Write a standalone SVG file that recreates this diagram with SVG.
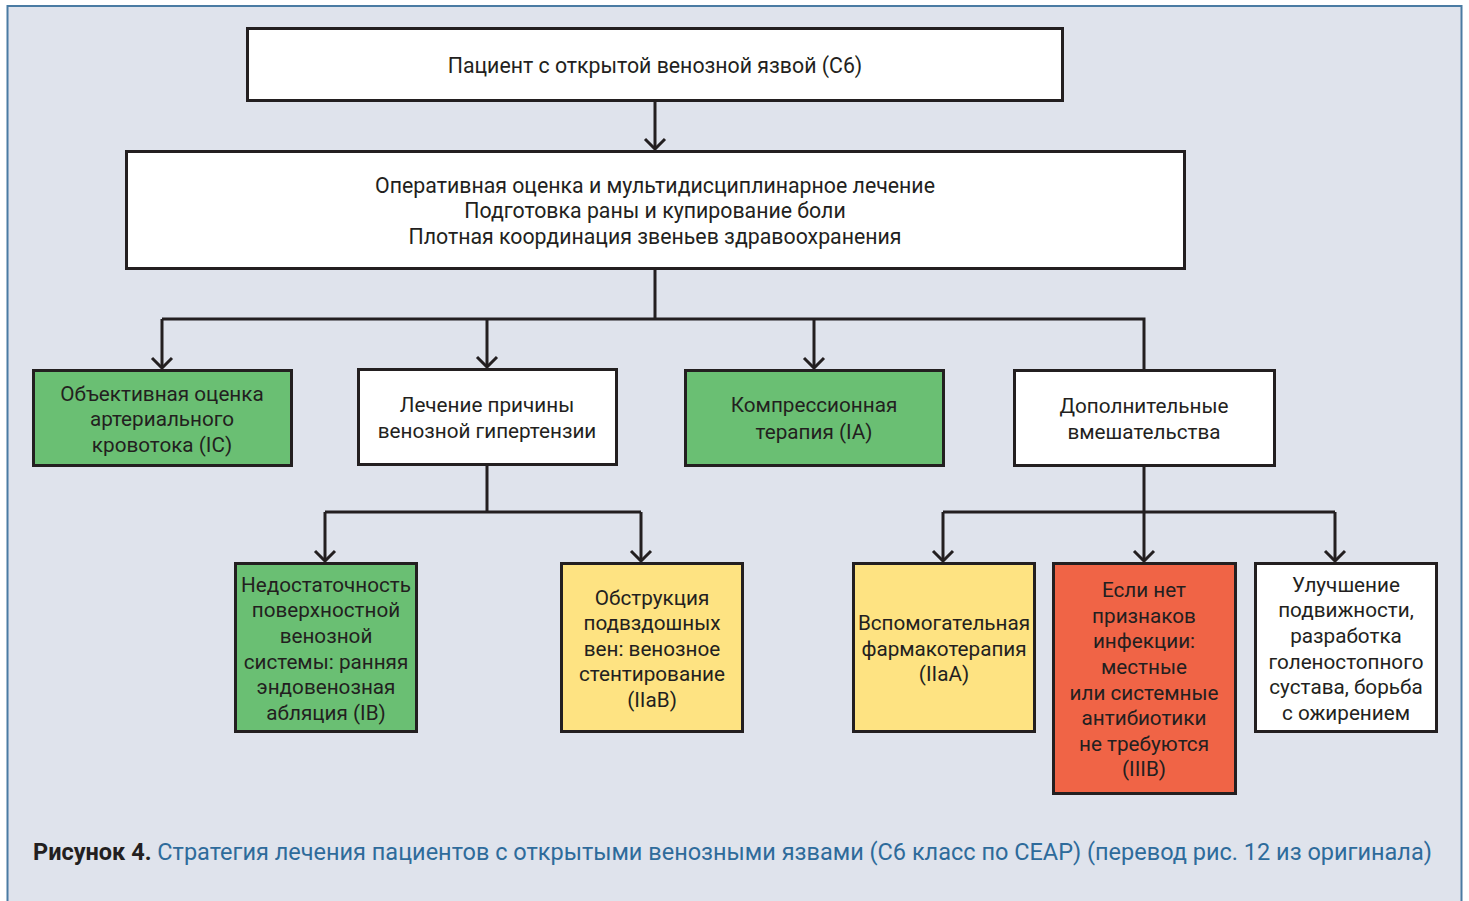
<svg xmlns="http://www.w3.org/2000/svg" width="1469" height="901" viewBox="0 0 1469 901">
  <style>
    .box { stroke: #231f20; stroke-width: 3; }
    .white { fill: #ffffff; }
    .green { fill: #6abf73; }
    .yellow { fill: #fee382; }
    .red { fill: #f06446; }
    .t { font-family: Roboto, "Liberation Sans", sans-serif; font-size: 20.7px; fill: #231f20; text-anchor: middle; }
    .big { font-size: 21.3px; }
    .wire { fill: none; stroke: #231f20; stroke-width: 3; }
    .cap { font-family: Roboto, "Liberation Sans", sans-serif; font-size: 23.5px; }
  </style>
  <defs>
    <!-- open chevron head, tip at the end of the line -->
    <marker id="arrow" viewBox="0 0 14 24" refX="12" refY="12" markerWidth="14" markerHeight="24" markerUnits="userSpaceOnUse" orient="auto">
      <path d="M2 2 L12 12 L2 22" fill="none" stroke="#231f20" stroke-width="3"/>
    </marker>
  </defs>

  <!-- panel -->
  <rect x="7.5" y="6" width="1454" height="905" fill="#dfe3ec" stroke="#4a7ba3" stroke-width="2"/>

  <g id="connectors">
    <path class="wire" d="M655 101 V149" marker-end="url(#arrow)"/>
    <path class="wire" d="M655 269 V319 M162 319 H1144 V370"/>
    <path class="wire" d="M162 319 V368" marker-end="url(#arrow)"/>
    <path class="wire" d="M487 319 V367" marker-end="url(#arrow)"/>
    <path class="wire" d="M814 319 V368" marker-end="url(#arrow)"/>
    <path class="wire" d="M487 465 V512 M325 512 H641"/>
    <path class="wire" d="M325 512 V561" marker-end="url(#arrow)"/>
    <path class="wire" d="M641 512 V561" marker-end="url(#arrow)"/>
    <path class="wire" d="M1144 466 V512 M943 512 H1335"/>
    <path class="wire" d="M943 512 V561" marker-end="url(#arrow)"/>
    <path class="wire" d="M1144 512 V561" marker-end="url(#arrow)"/>
    <path class="wire" d="M1335 512 V561" marker-end="url(#arrow)"/>
  </g>

  <g id="patient">
    <rect class="box white" x="247.5" y="28.5" width="815" height="72"/>
    <text class="t big" x="655" y="73">Пациент с открытой венозной язвой (C6)</text>
  </g>

  <g id="assessment">
    <rect class="box white" x="126.5" y="151.5" width="1058" height="117"/>
    <text class="t big" x="655" y="193">Оперативная оценка и мультидисциплинарное лечение</text>
    <text class="t big" x="655" y="218">Подготовка раны и купирование боли</text>
    <text class="t big" x="655" y="244">Плотная координация звеньев здравоохранения</text>
  </g>

  <g id="arterial">
    <rect class="box green" x="33.5" y="370.5" width="258" height="95"/>
    <text class="t" x="162" y="401">Объективная оценка</text>
    <text class="t" x="162" y="426">артериального</text>
    <text class="t" x="162" y="452">кровотока (IC)</text>
  </g>

  <g id="cause">
    <rect class="box white" x="358.5" y="369.5" width="258" height="95"/>
    <text class="t" x="487" y="412">Лечение причины</text>
    <text class="t" x="487" y="438">венозной гипертензии</text>
  </g>

  <g id="compression">
    <rect class="box green" x="685.5" y="370.5" width="258" height="95"/>
    <text class="t" x="814" y="412">Компрессионная</text>
    <text class="t" x="814" y="439">терапия (IA)</text>
  </g>

  <g id="additional">
    <rect class="box white" x="1014.5" y="370.5" width="260" height="95"/>
    <text class="t" x="1144" y="413">Дополнительные</text>
    <text class="t" x="1144" y="439">вмешательства</text>
  </g>

  <g id="superficial">
    <rect class="box green" x="235.5" y="563.5" width="181" height="168"/>
    <text class="t" x="326" y="592">Недостаточность</text>
    <text class="t" x="326" y="617">поверхностной</text>
    <text class="t" x="326" y="643">венозной</text>
    <text class="t" x="326" y="669">системы: ранняя</text>
    <text class="t" x="326" y="694">эндовенозная</text>
    <text class="t" x="326" y="720">абляция (IB)</text>
  </g>

  <g id="iliac">
    <rect class="box yellow" x="561.5" y="563.5" width="181" height="168"/>
    <text class="t" x="652" y="605">Обструкция</text>
    <text class="t" x="652" y="630">подвздошных</text>
    <text class="t" x="652" y="656">вен: венозное</text>
    <text class="t" x="652" y="681">стентирование</text>
    <text class="t" x="652" y="707">(IIaB)</text>
  </g>

  <g id="pharma">
    <rect class="box yellow" x="853.5" y="563.5" width="181" height="168"/>
    <text class="t" x="944" y="630">Вспомогательная</text>
    <text class="t" x="944" y="656">фармакотерапия</text>
    <text class="t" x="944" y="681">(IIaA)</text>
  </g>

  <g id="antibiotics">
    <rect class="box red" x="1053.5" y="563.5" width="182" height="230"/>
    <text class="t" x="1144" y="597">Если нет</text>
    <text class="t" x="1144" y="623">признаков</text>
    <text class="t" x="1144" y="648">инфекции:</text>
    <text class="t" x="1144" y="674">местные</text>
    <text class="t" x="1144" y="700">или системные</text>
    <text class="t" x="1144" y="725">антибиотики</text>
    <text class="t" x="1144" y="751">не требуются</text>
    <text class="t" x="1144" y="776">(IIIB)</text>
  </g>

  <g id="mobility">
    <rect class="box white" x="1255.5" y="563.5" width="181" height="168"/>
    <text class="t" x="1346" y="592">Улучшение</text>
    <text class="t" x="1346" y="617">подвижности,</text>
    <text class="t" x="1346" y="643">разработка</text>
    <text class="t" x="1346" y="669">голеностопного</text>
    <text class="t" x="1346" y="694">сустава, борьба</text>
    <text class="t" x="1346" y="720">с ожирением</text>
  </g>

  <text class="cap" x="33" y="860"><tspan font-weight="bold" fill="#231f20">Рисунок 4.</tspan><tspan fill="#2e6b9b"> Стратегия лечения пациентов с открытыми венозными язвами (С6 класс по СЕАР) (перевод рис. 12 из оригинала)</tspan></text>
</svg>
